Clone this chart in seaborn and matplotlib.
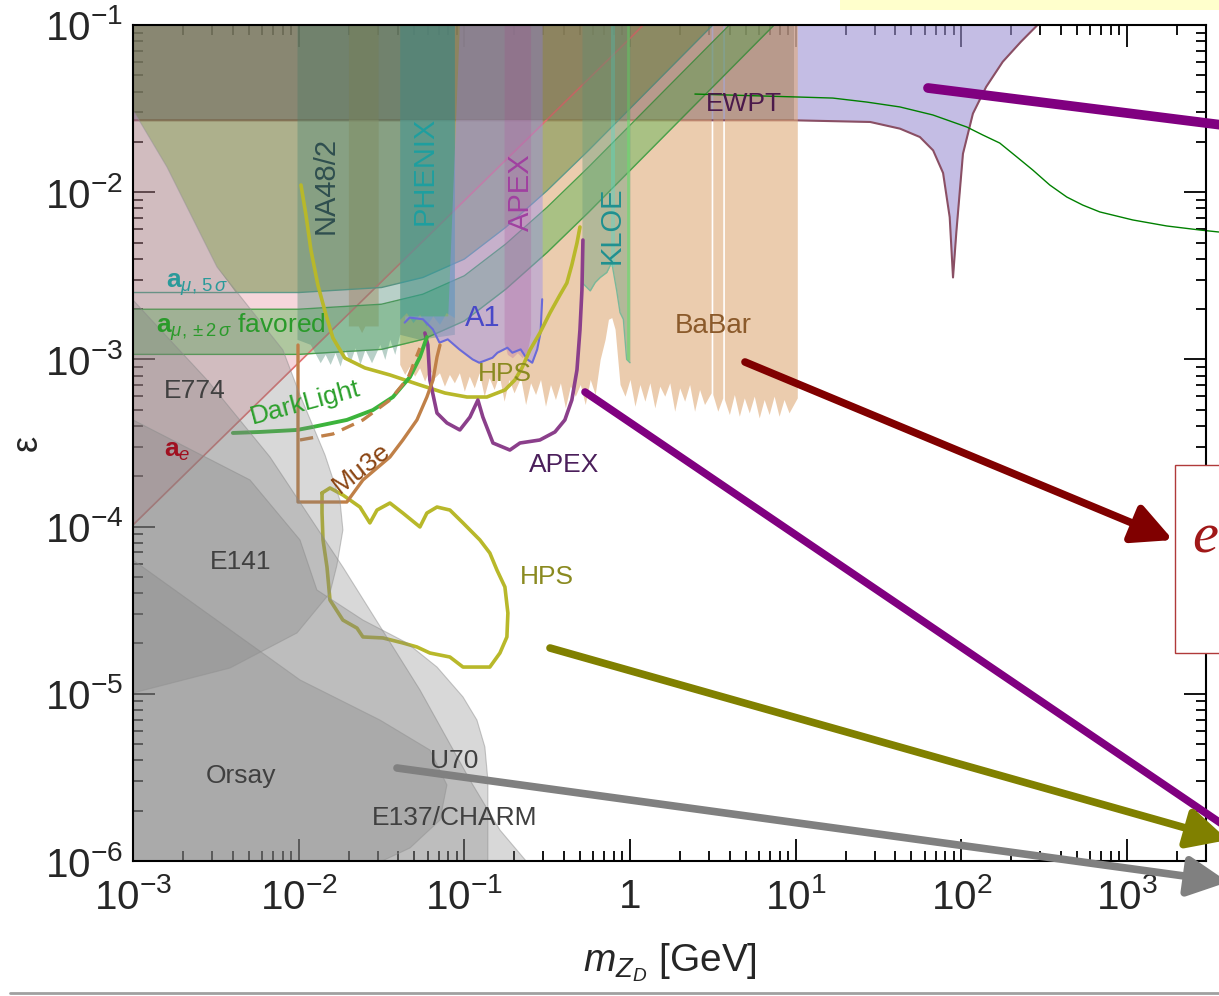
import numpy as np
import matplotlib
matplotlib.use("Agg")
import matplotlib.pyplot as plt
import seaborn as sns
from matplotlib.patches import Rectangle
from matplotlib.lines import Line2D
from matplotlib.ticker import FixedLocator, FixedFormatter, LogLocator, NullFormatter

# All curves are stored as log10(mass / GeV) and log10(epsilon).

# EWPT lower boundary (filled up to 1e-1)
ewpt_lm = [-3.0, 0.99, 1.45, 1.63, 1.75, 1.83, 1.89, 1.93, 1.95, 1.97, 2.01, 2.07, 2.15, 2.25, 2.36, 2.47]
ewpt_le = [-1.57, -1.57, -1.58, -1.62, -1.67, -1.75, -1.885, -2.15, -2.51, -2.24, -1.77, -1.53, -1.37, -1.22, -1.10, -0.99]

# a_e line (excluded above)
ae_lm = [-3.0, -2.0, -1.0, 0.0, 0.08]
ae_le = [-3.99, -3.02, -2.05, -1.08, -1.0]

# a_mu curves
amu_lm = [-3.0, -2.0, -1.5, -1.25, -1.0, -0.75, -0.5, -0.25, 0.0, 0.25, 0.5, 0.75, 1.0]
amu5_le = [-2.60, -2.60, -2.57, -2.51, -2.40, -2.21, -1.99, -1.75, -1.50, -1.25, -1.00, -0.75, -0.50]
amu2hi_le = [-2.70, -2.70, -2.67, -2.61, -2.50, -2.31, -2.09, -1.85, -1.60, -1.35, -1.10, -0.85, -0.60]
amu2lo_le = [-2.97, -2.97, -2.94, -2.88, -2.77, -2.58, -2.36, -2.12, -1.87, -1.62, -1.37, -1.12, -0.87]
# left cut of the 5 sigma shading (it stops at the beam-dump outline)
amu5_cut_lm = [-3.0, -3.0, -2.795, -2.493, -2.38]
amu5_cut_le = [-1.0, -1.508, -1.849, -2.447, -2.60]

# BaBar lower edge, in four pieces (gaps at J/psi, psi(2S))
babar1_lm = [-1.70, -1.64, -1.62, -1.60, -1.52]
babar1_le = [-2.80, -2.80, -2.84, -2.80, -2.80]
babar2_lm = [-1.39, -1.36, -1.33, -1.30, -1.27, -1.24, -1.21, -1.18, -1.15, -1.12, -1.09, -1.06, -1.03,
             -1.00, -0.97, -0.94, -0.91, -0.88, -0.85, -0.82, -0.79, -0.76, -0.73, -0.70, -0.66, -0.63,
             -0.60, -0.57, -0.54, -0.51, -0.48, -0.45, -0.42, -0.39, -0.36, -0.33, -0.30, -0.27, -0.24,
             -0.21, -0.18, -0.15, -0.13, -0.11, -0.09, -0.06, -0.03, 0.00, 0.03, 0.06, 0.09, 0.12, 0.15,
             0.18, 0.21, 0.24, 0.27, 0.30, 0.33, 0.36, 0.39, 0.42, 0.45, 0.49]
babar2_le = [-3.03, -3.09, -3.04, -3.10, -3.05, -3.13, -3.06, -3.11, -3.08, -3.16, -3.09, -3.14, -3.08,
             -3.19, -3.10, -3.17, -3.08, -3.22, -3.11, -3.18, -3.09, -3.25, -3.12, -3.20, -3.11, -3.27,
             -3.14, -3.21, -3.12, -3.28, -3.15, -3.24, -3.14, -3.29, -3.16, -3.22, -3.15, -3.27, -3.12,
             -3.21, -3.00, -2.88, -2.76, -2.75, -2.82, -3.15, -3.22, -3.12, -3.28, -3.15, -3.25, -3.14,
             -3.29, -3.16, -3.22, -3.14, -3.31, -3.17, -3.25, -3.15, -3.31, -3.18, -3.27, -3.20]
babar3_lm = [0.50, 0.53, 0.56]
babar3_le = [-3.21, -3.31, -3.23]
babar4_lm = [0.57, 0.60, 0.63, 0.66, 0.69, 0.72, 0.75, 0.78, 0.81, 0.84, 0.87, 0.90, 0.93, 0.96, 1.01]
babar4_le = [-3.24, -3.33, -3.21, -3.34, -3.23, -3.32, -3.22, -3.35, -3.24, -3.33, -3.22, -3.34, -3.24, -3.32, -3.23]

# NA48/2, PHENIX, A1, APEX (existing), KLOE lower edges (filled up to 1e-1)
na48_lm = [-2.01, -1.93, -1.87, -1.84, -1.81, -1.78, -1.75, -1.72, -1.69, -1.66, -1.63, -1.60, -1.56,
           -1.51, -1.48, -1.45, -1.42, -1.39, -1.27, -1.06]
na48_le = [-2.88, -2.91, -3.02, -2.97, -3.03, -2.96, -3.04, -2.94, -3.02, -2.93, -3.03, -2.94, -3.02,
           -2.91, -3.00, -2.88, -2.97, -2.85, -2.88, -2.85]
phenix_lm = [-1.39, -1.35, -1.31, -1.27, -1.23, -1.19, -1.15, -1.11, -1.06]
phenix_le = [-2.76, -2.72, -2.78, -2.73, -2.80, -2.74, -2.79, -2.72, -2.75]
a1_lm = [-1.36, -1.33, -1.25, -1.19, -1.15, -1.10, -1.03, -0.95, -0.91, -0.83, -0.80, -0.74, -0.71,
         -0.66, -0.62, -0.59, -0.56, -0.54, -0.53]
a1_le = [-2.78, -2.75, -2.76, -2.82, -2.90, -2.88, -2.94, -3.00, -3.02, -2.99, -2.96, -2.93, -2.96,
         -2.94, -3.00, -3.02, -2.94, -2.84, -2.64]
# A1 upper edge: stops under PHENIX, open to the top beyond it
a1_up = [-2.74, -2.74, -2.74, -2.74, -2.74, -2.74, -1.0, -1.0, -1.0, -1.0, -1.0, -1.0, -1.0,
         -1.0, -1.0, -1.0, -1.0, -1.0, -1.0]
apex_lm = [-0.76, -0.74, -0.71, -0.68, -0.65, -0.62, -0.60]
apex_le = [-2.90, -2.97, -2.99, -2.96, -2.99, -2.95, -2.85]
kloe_lm = [-0.29, -0.24, -0.21, -0.18, -0.14, -0.11, -0.08, -0.06, -0.04, -0.02, 0.0]
kloe_le = [-2.54, -2.59, -2.54, -2.51, -2.48, -2.42, -2.59, -2.72, -2.76, -3.00, -3.02]
kloe_cyan_lm = [-0.115, -0.09]
kloe_cyan_le = [-2.45, -2.45]
kloe_edge_lm = [-0.01, -0.01]
kloe_edge_le = [-3.0, -1.0]

# beam dump regions (closed outlines)
e141_lm = [-3.0, -2.795, -2.493, -2.095, -1.992, -1.841, -1.751, -1.733, -1.769, -1.811, -2.010, -2.415, -3.0]
e141_le = [-1.508, -1.849, -2.447, -2.944, -3.213, -3.572, -3.841, -4.020, -4.230, -4.397, -4.636, -4.846, -4.995]
e137_lm = [-3.0, -2.553, -2.173, -1.733, -1.268, -0.966, -0.785, -0.622, -3.0]
e137_le = [-2.645, -3.123, -3.584, -4.242, -4.977, -5.516, -5.815, -6.006, -6.006]
u70_lm = [-3.0, -2.294, -1.992, -1.890, -1.612, -1.346, -1.165, -1.008, -0.924, -0.876, -0.858, -0.858, -3.0]
u70_le = [-3.362, -3.721, -4.080, -4.379, -4.559, -4.696, -4.840, -5.019, -5.157, -5.318, -5.516, -6.006, -6.006]
orsay_lm = [-3.0, -1.992, -1.509, -1.208, -1.105, -1.147, -1.328, -1.509, -3.0]
orsay_le = [-4.20, -4.917, -5.157, -5.336, -5.545, -5.755, -5.922, -6.006, -6.006]

# projected sensitivities
hps_lm = [-1.986, -1.956, -1.926, -1.884, -1.835, -1.793, -1.721, -1.600, -1.449, -1.268, -1.117, -0.984,
          -0.864, -0.755, -0.695, -0.652, -0.604, -0.544, -0.483, -0.423, -0.381, -0.351, -0.320, -0.302]
hps_le = [-1.957, -2.136, -2.346, -2.555, -2.734, -2.872, -2.992, -3.051, -3.093, -3.153, -3.201, -3.225,
          -3.225, -3.183, -3.123, -3.051, -2.944, -2.842, -2.722, -2.615, -2.543, -2.435, -2.304, -2.208]
hpsdv_lm = [-1.859, -1.811, -1.733, -1.630, -1.570, -1.527, -1.449, -1.371, -1.268, -1.226, -1.165, -1.087,
            -1.008, -0.906, -0.846, -0.803, -0.755, -0.737, -0.743, -0.785, -0.846, -1.008, -1.087, -1.208,
            -1.286, -1.371, -1.491, -1.612, -1.648, -1.733, -1.811, -1.829, -1.853, -1.859, -1.859]
hpsdv_le = [-3.799, -3.769, -3.811, -3.883, -3.978, -3.901, -3.859, -3.919, -4.002, -3.919, -3.883, -3.901,
            -3.978, -4.080, -4.158, -4.260, -4.361, -4.517, -4.660, -4.756, -4.840, -4.840, -4.780, -4.756,
            -4.720, -4.696, -4.666, -4.660, -4.607, -4.559, -4.439, -4.242, -4.080, -3.919, -3.799]
apexf_lm = [-1.238, -1.220, -1.208, -1.165, -1.105, -1.027, -0.966, -0.918, -0.888, -0.827, -0.725, -0.664,
            -0.544, -0.453, -0.393, -0.351, -0.320, -0.302, -0.290, -0.284]
apexf_le = [-2.842, -2.914, -3.123, -3.321, -3.380, -3.422, -3.345, -3.243, -3.345, -3.500, -3.542, -3.500,
            -3.482, -3.434, -3.362, -3.243, -3.063, -2.824, -2.585, -2.286]
dl_lm = [-2.397, -2.234, -2.010, -1.914, -1.709, -1.552, -1.431, -1.328, -1.268, -1.226]
dl_le = [-3.440, -3.434, -3.422, -3.404, -3.362, -3.303, -3.225, -3.105, -2.986, -2.866]
mu3e_lm = [-2.004, -2.004, -1.709, -1.612, -1.449, -1.371, -1.286, -1.226, -1.189, -1.165, -1.147]
mu3e_le = [-2.914, -3.853, -3.853, -3.721, -3.584, -3.482, -3.362, -3.225, -3.123, -2.986, -2.914]
mu3ed_lm = [-1.992, -1.793, -1.612, -1.449, -1.340, -1.268]
mu3ed_le = [-3.482, -3.446, -3.362, -3.243, -3.111, -2.932]

# thin green model curve at the top right
green_lm = [0.392, 1.025, 1.224, 1.430, 1.629, 1.828, 2.033, 2.130, 2.232, 2.335, 2.431, 2.534, 2.637,
            2.733, 2.836, 3.035, 3.240, 3.439, 3.554]
green_le = [-1.413, -1.431, -1.437, -1.461, -1.490, -1.538, -1.610, -1.658, -1.706, -1.789, -1.867, -1.957,
            -2.029, -2.077, -2.118, -2.166, -2.202, -2.226, -2.238]

x_ticks = [1e-3, 1e-2, 1e-1, 1, 1e1, 1e2, 1e3]
x_tick_labels = ["$10^{-3}$", "$10^{-2}$", "$10^{-1}$", "1", "$10^{1}$", "$10^{2}$", "$10^{3}$"]
y_ticks = [1e-6, 1e-5, 1e-4, 1e-3, 1e-2, 1e-1]
y_tick_labels = ["$10^{-6}$", "$10^{-5}$", "$10^{-4}$", "$10^{-3}$", "$10^{-2}$", "$10^{-1}$"]


def P(a):
    return 10.0 ** np.asarray(a, dtype=float)


sns.set_style("ticks")
plt.rcParams['font.family'] = ['Liberation Sans', 'DejaVu Sans']
plt.rcParams['mathtext.fontset'] = 'custom'
plt.rcParams['mathtext.rm'] = 'Liberation Sans'
plt.rcParams['mathtext.it'] = 'Liberation Sans:italic'
plt.rcParams['mathtext.bf'] = 'Liberation Sans:bold'

fig = plt.figure(figsize=(12.19, 9.96), dpi=100)
ax = fig.add_axes([133 / 1219, 1 - 861 / 996, (1206 - 133) / 1219, (861 - 25) / 996])
ax.set_xscale('log')
ax.set_yscale('log')
ax.set_xlim(1e-3, 3e3)
ax.set_ylim(1e-6, 1e-1)
TOP = 0.1

# EWPT
ax.fill_between(P(ewpt_lm), P(ewpt_le), TOP, color="#9d91d2", alpha=0.6, lw=0, zorder=1)
ax.plot(P(ewpt_lm), P(ewpt_le), color="#8a4f64", lw=1.5, zorder=1.5)

# BaBar
for lm, le in [(babar1_lm, babar1_le), (babar2_lm, babar2_le), (babar3_lm, babar3_le), (babar4_lm, babar4_le)]:
    ax.fill_between(P(lm), P(le), TOP, color="#dfaa78", alpha=0.6, lw=0, zorder=2)

# a_e
ax.fill_between(P(ae_lm), P(ae_le), TOP, color="#e07a8a", alpha=0.3, lw=0, zorder=3)
ax.plot(P(ae_lm), P(ae_le), color="#e07070", lw=1.2, zorder=3.1)

# a_mu: 5 sigma shading bounded on the left by the beam-dump outline
keep = [i for i, v in enumerate(amu_lm) if v > amu5_cut_lm[-1] and amu5_le[i] <= -1.0]
reg_lm = amu5_cut_lm + [amu_lm[i] for i in keep]
reg_le = amu5_cut_le + [amu5_le[i] for i in keep]
ax.fill(P(reg_lm), P(reg_le), facecolor="#678b3f", alpha=0.5, edgecolor="none", zorder=3)
ax.plot(P(amu_lm), P(amu5_le), color="#5f9a8a", lw=1, zorder=3.1)
ax.fill_between(P(amu_lm), P(amu2lo_le), P(amu2hi_le), color="#48b147", alpha=0.4, lw=0, zorder=3)
ax.plot(P(amu_lm), P(amu2lo_le), color="#4aa04a", lw=1, zorder=3.1)
ax.plot(P(amu_lm), P(amu2hi_le), color="#4aa04a", lw=1, zorder=3.1)

# existing experiments
ax.fill_between(P(na48_lm), P(na48_le), TOP, color="#4f8a76", alpha=0.4, lw=0, zorder=4)
ax.fill_between(P(phenix_lm), P(phenix_le), TOP, color="#2aa0b0", alpha=0.4, lw=0, zorder=4)
ax.fill_between(P(a1_lm), P(a1_le), P(a1_up), color="#9a90f0", alpha=0.45, lw=0, zorder=4)
ax.plot(P(a1_lm), P(a1_le), color="#6a6ad8", lw=1.5, zorder=4.1)
ax.fill_between(P(apex_lm), P(apex_le), TOP, color="#b060a0", alpha=0.3, lw=0, zorder=4)
ax.fill_between(P(kloe_lm), P(kloe_le), TOP, color="#6fa080", alpha=0.45, lw=0, zorder=4)
ax.plot(P(kloe_lm), P(kloe_le), color="#7ab89a", lw=1, zorder=4.1)
ax.fill_between(P(kloe_cyan_lm), P(kloe_cyan_le), TOP, color="#50e0d0", alpha=0.35, lw=0, zorder=4.2)
ax.plot(P(kloe_edge_lm), P(kloe_edge_le), color="#70d870", lw=2, alpha=0.7, zorder=4.2)

# darker band above the EWPT line where everything overlaps
ax.fill_between(P([-3.0, 0.99]), P([-1.57, -1.57]), TOP, color="#4a4030", alpha=0.2, lw=0, zorder=4.5)

# projected sensitivities
sns.lineplot(x=P(hps_lm), y=P(hps_le), sort=False, estimator=None, color="#b8b82a", lw=2.6, ax=ax, zorder=5)
sns.lineplot(x=P(hpsdv_lm), y=P(hpsdv_le), sort=False, estimator=None, color="#b8b82a", lw=2.6, ax=ax, zorder=5)
sns.lineplot(x=P(apexf_lm), y=P(apexf_le), sort=False, estimator=None, color="#8b3f8b", lw=2.6, ax=ax, zorder=5)
sns.lineplot(x=P(dl_lm), y=P(dl_le), sort=False, estimator=None, color="#3cb43c", lw=2.8, ax=ax, zorder=5)
sns.lineplot(x=P(mu3e_lm), y=P(mu3e_le), sort=False, estimator=None, color="#c08048", lw=2.4, ax=ax, zorder=5)
ax.plot(P(mu3ed_lm), P(mu3ed_le), color="#c08048", lw=2.4, ls=(0, (4, 2.5)), zorder=5)

# beam dumps
for lm, le in [(e137_lm, e137_le), (u70_lm, u70_le), (orsay_lm, orsay_le), (e141_lm, e141_le)]:
    ax.fill(P(lm), P(le), facecolor="#808080", alpha=0.3, edgecolor="none", zorder=6)
    ax.plot(P(lm), P(le), color="#909090", lw=0.8, alpha=0.5, zorder=6)

ax.plot(P(green_lm), P(green_le), color="#008000", lw=1, zorder=7, clip_on=False)

# labels
lab = dict(fontsize=19, ha='center', va='center', zorder=8)
ax.text(P(-1.84), P(-1.96), "NA48/2", rotation=90, color="#2f4f4f", **dict(lab, fontsize=21))
ax.text(P(-1.24), P(-1.87), "PHENIX", rotation=90, color="#1f9f9f", **dict(lab, fontsize=21))
ax.text(P(-0.66), P(-2.00), "APEX", rotation=90, color="#a040a0", **dict(lab, fontsize=21))
ax.text(P(-0.11), P(-2.20), "KLOE", rotation=90, color="#1f9090", **dict(lab, fontsize=21))
ax.text(P(0.69), P(-1.47), "EWPT", color="#4b1a4b", **lab)
ax.text(P(-0.89), P(-2.75), "A1", color="#4848c8", **dict(lab, fontsize=21))
ax.text(P(0.50), P(-2.80), "BaBar", color="#8b5a2b", **dict(lab, fontsize=20))
ax.text(P(-0.755), P(-3.09), "HPS", color="#8a8a20", **lab)
ax.text(P(-0.50), P(-4.30), "HPS", color="#8a8a20", **lab)
ax.text(P(-0.40), P(-3.63), "APEX", color="#4b1f5b", **lab)
ax.text(P(-1.62), P(-3.65), "Mu3e", rotation=38, color="#8b4513", **lab)
ax.text(P(-1.96), P(-3.26), "DarkLight", rotation=15, color="#2ca02c", **lab)
ax.text(P(-2.61), P(-2.55), r"$\mathbf{a}_{\mu,\,5\,\sigma}$", color="#2a9a9a", **lab)
ax.text(P(-2.35), P(-2.81), r"$\mathbf{a}_{\mu,\pm2\,\sigma}$ favored", color="#2a9a2a", **lab)
ax.text(P(-2.63), P(-3.19), "E774", color="#404040", **lab)
ax.text(P(-2.73), P(-3.55), r"$\mathbf{a}_e$", color="#a01020", **lab)
ax.text(P(-2.35), P(-4.21), "E141", color="#404040", **lab)
ax.text(P(-2.35), P(-5.49), "Orsay", color="#404040", **lab)
ax.text(P(-1.06), P(-5.40), "U70", color="#404040", **lab)
ax.text(P(-1.06), P(-5.74), "E137/CHARM", color="#404040", **lab)

# axes styling
for s in ax.spines.values():
    s.set_color("black")
    s.set_linewidth(1.5)
    s.set_zorder(9)
ax.xaxis.set_major_locator(FixedLocator(x_ticks))
ax.xaxis.set_major_formatter(FixedFormatter(x_tick_labels))
ax.yaxis.set_major_locator(FixedLocator(y_ticks))
ax.yaxis.set_major_formatter(FixedFormatter(y_tick_labels))
ax.xaxis.set_minor_locator(LogLocator(base=10, subs=range(2, 10), numticks=20))
ax.yaxis.set_minor_locator(LogLocator(base=10, subs=range(2, 10), numticks=20))
ax.xaxis.set_minor_formatter(NullFormatter())
ax.yaxis.set_minor_formatter(NullFormatter())
ax.tick_params(which='both', direction='in', top=True, right=True, color='black', width=1.3)
ax.tick_params(which='major', length=16, labelsize=29)
ax.tick_params(axis='x', which='major', pad=12)
ax.tick_params(axis='y', which='major', pad=7)
ax.tick_params(which='minor', length=7)
ax.set_xlabel(r"$m_{Z_D}$ [GeV]", fontsize=28, labelpad=18)
ax.set_ylabel("ε", fontsize=26, labelpad=0)

# overlaid annotations (figure pixels, origin bottom-left)
H = 996


def arrow(x0, y0, x1, y1, color, lw, head=True):
    style = '-|>' if head else '-'
    ax.annotate("", xy=(x1, H - y1), xytext=(x0, H - y0), xycoords='figure pixels',
                textcoords='figure pixels', annotation_clip=False,
                arrowprops=dict(arrowstyle=style, lw=lw, color=color, mutation_scale=60,
                                shrinkA=0, shrinkB=0), zorder=10)


arrow(928, 88, 1222, 125, "#800080", 7, head=False)
arrow(745, 362, 1173, 540, "#800000", 5.5)
arrow(585, 392, 1222, 824, "#800080", 5.5, head=False)
arrow(550, 648, 1228, 840, "#808000", 5.5)
arrow(397, 768, 1228, 882, "#808080", 5.5)

fig.add_artist(Rectangle((1175 / 1219, 1 - 653 / 996), 60 / 1219, 188 / 996, transform=fig.transFigure,
                         facecolor="white", edgecolor="#b03a3a", lw=1, zorder=11))
fig.text(1192 / 1219, 1 - 538 / 996, "e", family="Liberation Serif", style="italic",
         fontsize=42, color="#a01818", ha='left', va='center', zorder=12)
fig.add_artist(Rectangle((840 / 1219, 1 - 10 / 996), 379 / 1219, 10 / 996, transform=fig.transFigure,
                         facecolor="#ffffcc", edgecolor="none", zorder=11))
fig.add_artist(Line2D([10 / 1219, 1.0], [1 - 993 / 996, 1 - 993 / 996], transform=fig.transFigure,
                      color="#a0a0a0", lw=2))

fig.savefig("out.png", dpi=100)
